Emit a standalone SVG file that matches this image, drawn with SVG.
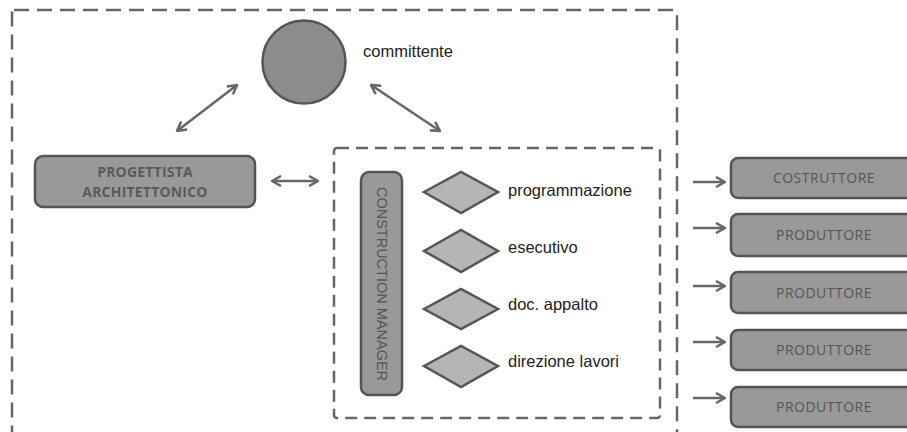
<svg xmlns="http://www.w3.org/2000/svg" width="907" height="432" viewBox="0 0 907 432">
  <style>
    .frame { fill: none; stroke: #666; stroke-width: 2.5; stroke-dasharray: 15 8; }
    .inner { fill: none; stroke: #666; stroke-width: 2.5; stroke-dasharray: 12 7; }
    .box { fill: #999; stroke: #555; stroke-width: 2.5; }
    .dia { fill: #b5b5b5; stroke: #555; stroke-width: 2.5; }
    .conn { fill: none; stroke: #666; stroke-width: 2.5; }
    .lbl { font-family: "Liberation Sans", Arial, sans-serif; font-size: 16.5px; fill: #222; }
    .cap { font-family: "Open Sans", "Noto Sans", sans-serif; font-size: 14px; fill: #555; text-anchor: middle; letter-spacing: 0.5px; }
    .capb { font-family: "Open Sans", "Noto Sans", sans-serif; font-size: 14px; font-weight: bold; fill: #5a5a5a; text-anchor: middle; letter-spacing: 0.2px; }
    .vert { font-family: "Liberation Sans", Arial, sans-serif; font-size: 14.5px; fill: #555; text-anchor: middle; }
  </style>
  <defs>
    <marker id="head" markerUnits="userSpaceOnUse" viewBox="0 0 12 12" refX="11" refY="6" markerWidth="12" markerHeight="12" orient="auto-start-reverse">
      <path d="M2,1 L11,6 L2,11" fill="none" stroke="#666" stroke-width="2.5"/>
    </marker>
  </defs>

  <rect width="907" height="432" fill="#fff"/>

  <!-- outer boundary, open at the bottom edge -->
  <rect class="frame" x="12" y="10" width="665" height="450" rx="2"/>

  <!-- construction management group -->
  <rect class="inner" x="334" y="148" width="326" height="270" rx="3"/>

  <g id="committente">
    <circle cx="304" cy="62" r="41.5" fill="#8c8c8c" stroke="#555" stroke-width="2.5"/>
    <text class="lbl" x="363" y="57">committente</text>
  </g>

  <g id="progettista">
    <rect class="box" x="35" y="156" width="220" height="51" rx="8"/>
    <text class="capb" x="145" y="177">PROGETTISTA</text>
    <text class="capb" x="145" y="197">ARCHITETTONICO</text>
  </g>

  <g id="construction-manager">
    <rect class="box" x="361" y="172" width="41" height="223" rx="8"/>
    <text class="vert" transform="translate(381.5 284) rotate(90)" y="5">CONSTRUCTION MANAGER</text>
  </g>

  <g id="programmazione">
    <polygon class="dia" points="424,192 461,172 498,192 461,213"/>
    <text class="lbl" x="508" y="196">programmazione</text>
  </g>
  <g id="esecutivo">
    <polygon class="dia" points="424,251 461,230 498,251 461,272"/>
    <text class="lbl" x="508" y="253">esecutivo</text>
  </g>
  <g id="doc-appalto">
    <polygon class="dia" points="424,309 461,289 498,309 461,329"/>
    <text class="lbl" x="508" y="310">doc. appalto</text>
  </g>
  <g id="direzione-lavori">
    <polygon class="dia" points="424,366 461,346 498,366 461,387"/>
    <text class="lbl" x="508" y="367">direzione lavori</text>
  </g>

  <g id="costruttore">
    <rect class="box" x="731" y="158" width="190" height="40" rx="7"/>
    <text class="cap" x="824" y="183">COSTRUTTORE</text>
  </g>
  <g id="produttore-1">
    <rect class="box" x="731" y="214" width="190" height="42" rx="7"/>
    <text class="cap" x="824" y="240">PRODUTTORE</text>
  </g>
  <g id="produttore-2">
    <rect class="box" x="731" y="272" width="190" height="41" rx="7"/>
    <text class="cap" x="824" y="298">PRODUTTORE</text>
  </g>
  <g id="produttore-3">
    <rect class="box" x="731" y="330" width="190" height="40" rx="7"/>
    <text class="cap" x="824" y="355">PRODUTTORE</text>
  </g>
  <g id="produttore-4">
    <rect class="box" x="731" y="387" width="190" height="40" rx="7"/>
    <text class="cap" x="824" y="412">PRODUTTORE</text>
  </g>

  <g id="connectors">
    <line class="conn" x1="177" y1="131" x2="237" y2="85" marker-start="url(#head)" marker-end="url(#head)"/>
    <line class="conn" x1="371" y1="85" x2="440" y2="131" marker-start="url(#head)" marker-end="url(#head)"/>
    <line class="conn" x1="272" y1="181" x2="318" y2="181" marker-start="url(#head)" marker-end="url(#head)"/>
    <line class="conn" x1="693" y1="182" x2="725" y2="182" marker-end="url(#head)"/>
    <line class="conn" x1="693" y1="228" x2="725" y2="228" marker-end="url(#head)"/>
    <line class="conn" x1="693" y1="286" x2="725" y2="286" marker-end="url(#head)"/>
    <line class="conn" x1="693" y1="342" x2="725" y2="342" marker-end="url(#head)"/>
    <line class="conn" x1="693" y1="398" x2="725" y2="398" marker-end="url(#head)"/>
  </g>
</svg>
